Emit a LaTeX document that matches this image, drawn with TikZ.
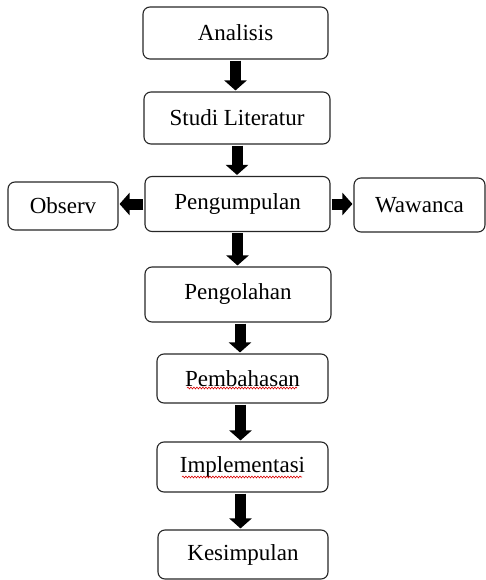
\documentclass[tikz,border=0pt]{standalone}
\usepackage{fontspec}
\setmainfont{Liberation Serif}
\usetikzlibrary{arrows.meta,decorations.pathmorphing}
\begin{document}
\begin{tikzpicture}[x=1pt,y=-1pt,
  box/.style={draw=black!85, line width=1.1pt, rounded corners=7pt, inner sep=0pt, font=\fontsize{23}{26}\selectfont},
  blk/.style={line width=11pt, -{Triangle[width=22pt,length=10pt]}, shorten >=1pt, shorten <=1pt},
  wavy/.style={red!85!black, line width=0.6pt, decorate, decoration={snake, amplitude=0.9pt, segment length=3pt}}]
\useasboundingbox (0,0) rectangle (486,580);
\node[box, minimum width=185pt, minimum height=52pt] (ana) at (235.5,33) {Analisis};
\node[box, minimum width=186pt, minimum height=52pt] (stu) at (237,118) {Studi Literatur};
\node[box, minimum width=185pt, minimum height=55pt] (peng) at (237.5,204) {Pengumpulan};
\node[box, minimum width=110pt, minimum height=48pt] (obs) at (63,206) {Observ};
\node[box, minimum width=131pt, minimum height=54pt] (waw) at (419.5,205) {Wawanca};
\node[box, minimum width=186pt, minimum height=55pt] (olah) at (238,294.5) {Pengolahan};
\node[box, minimum width=171pt, minimum height=49pt] (bah) at (242.5,378.5) {Pembahasan};
\node[box, minimum width=171pt, minimum height=50pt] (imp) at (242.5,467) {Implementasi};
\node[box, minimum width=170pt, minimum height=49pt] (kes) at (243,554.5) {Kesimpulan};
\draw[blk] (ana.south) -- (ana.south |- stu.north);
\draw[blk] (stu.south) -- (stu.south |- peng.north);
\draw[blk] (peng.south) -- (peng.south |- olah.north);
\draw[blk] (peng.west) -- (obs.east |- peng.west);
\draw[blk] (peng.east) -- (waw.west |- peng.east);
\draw[blk] ([xshift=2pt]olah.south) -- ([xshift=2pt]olah.south |- bah.north);
\draw[blk] ([xshift=-2pt]bah.south) -- ([xshift=-2pt]bah.south |- imp.north);
\draw[blk] ([xshift=-2pt]imp.south) -- ([xshift=-2pt]imp.south |- kes.north);
\draw[wavy] (187,388) -- (297,388);
\draw[wavy] (182,477) -- (302,477);
\end{tikzpicture}
\end{document}
